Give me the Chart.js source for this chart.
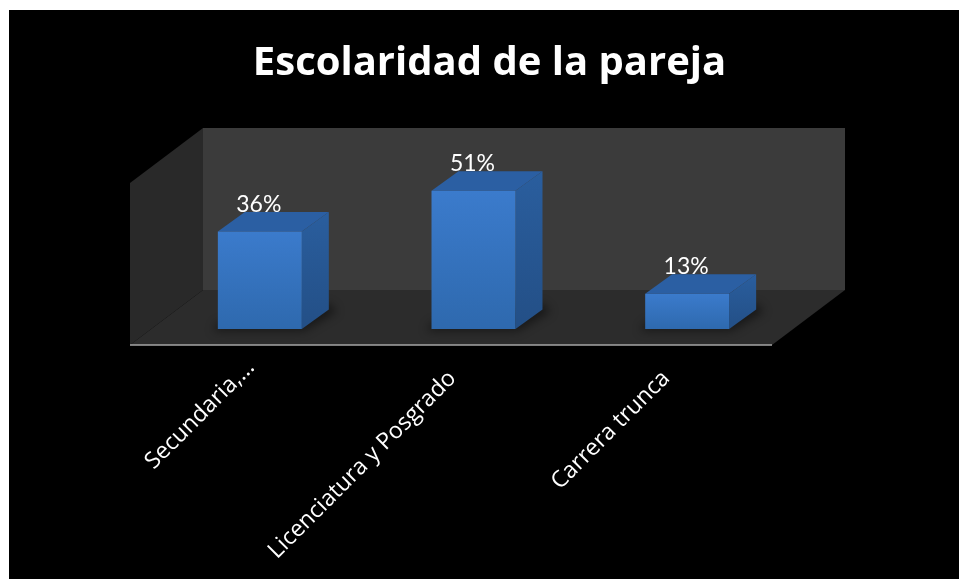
<!DOCTYPE html>
<html lang="es">
<head>
<meta charset="utf-8">
<title>Escolaridad de la pareja</title>
<script src="https://cdn.jsdelivr.net/npm/chart.js@4"></script>
<style>
  html, body { margin: 0; background: #fff; overflow: hidden; }
  #chart { position: absolute; left: 9px; top: 10px; background: #000; }
</style>
</head>
<body>
<canvas id="chart" width="950" height="569"></canvas>
<script>
const categories = ["Secundaria,...", "Licenciatura y Posgrado", "Carrera trunca"];
const percentages = [36, 51, 13];
const axisMax = 60;

// oblique offset of the box tops and of the room floor
const barDepth = { x: 27, y: -19.5 };
const roomDepth = { x: 73, y: -55 };

function poly(ctx, pts, fill) {
  ctx.beginPath();
  pts.forEach((p, i) => (i ? ctx.lineTo(p[0], p[1]) : ctx.moveTo(p[0], p[1])));
  ctx.closePath();
  ctx.fillStyle = fill;
  ctx.fill();
}

function vGradient(ctx, top, bottom, c0, c1) {
  const g = ctx.createLinearGradient(0, top, 0, bottom);
  g.addColorStop(0, c0);
  g.addColorStop(1, c1);
  return g;
}

// back wall, side wall, floor and the front axis line
const room = {
  id: "room",
  beforeDatasetsDraw(chart) {
    const { ctx, chartArea: a } = chart;
    const left = a.left - 23, right = a.right - 22, front = a.bottom + 16;
    const top = front - 162;
    const d = roomDepth;
    ctx.save();
    poly(ctx, [[left + d.x, top + d.y], [right + d.x, top + d.y], [right + d.x, front + d.y], [left + d.x, front + d.y]], "#3b3b3b");
    poly(ctx, [[left, top], [left + d.x, top + d.y], [left + d.x, front + d.y], [left, front]], "#292929");
    poly(ctx, [[left, front], [right, front], [right + d.x, front + d.y], [left + d.x, front + d.y]], "#2c2c2c");
    ctx.strokeStyle = "#a6a6a6";
    ctx.lineWidth = 1.5;
    ctx.beginPath();
    ctx.moveTo(left, front);
    ctx.lineTo(right, front);
    ctx.stroke();
    ctx.restore();
  },
};

// soft floor shadow plus the top and side faces of each box
const boxes = {
  id: "boxes",
  beforeDatasetsDraw(chart) {
    const { ctx } = chart;
    const d = barDepth;
    chart.getDatasetMeta(0).data.forEach((bar) => {
      const x0 = bar.x - bar.width / 2, x1 = bar.x + bar.width / 2;
      const t = bar.y, b = bar.base;
      ctx.save();
      ctx.filter = "blur(5px)";
      poly(ctx, [[x0 - 5, b + 2], [x1 + 2, b + 2], [x1 + d.x + 8, b + d.y + 2], [x1 + d.x, b + d.y - 6], [x0, b - 6]], "rgba(0,0,0,0.45)");
      ctx.restore();
      poly(ctx, [[x0, t], [x1, t], [x1 + d.x, t + d.y], [x0 + d.x, t + d.y]], "#2b5fa3");
      poly(ctx, [[x1, t], [x1 + d.x, t + d.y], [x1 + d.x, b + d.y], [x1, b]],
        vGradient(ctx, t + d.y, b, "#2a5e9e", "#234f86"));
    });
  },
};

// percentage printed above each box
const valueLabels = {
  id: "valueLabels",
  afterDatasetsDraw(chart) {
    const { ctx } = chart;
    ctx.save();
    ctx.fillStyle = "#fff";
    ctx.font = "23px Lato";
    ctx.textAlign = "center";
    ctx.textBaseline = "middle";
    chart.getDatasetMeta(0).data.forEach((bar, i) => {
      ctx.fillText(percentages[i] + "%", bar.x - 1, bar.y - 27);
    });
    ctx.restore();
  },
};

// the shortened first label sits a little closer to the axis than the others
const firstLabelShift = {
  id: "firstLabelShift",
  afterUpdate(chart) {
    const item = chart.scales.x.getLabelItems()[0];
    if (!item) return;
    item.options.translation = [item.options.translation[0] + 12, item.options.translation[1] - 11];
  },
};

new Chart(document.getElementById("chart"), {
  type: "bar",
  data: {
    labels: categories,
    datasets: [{
      data: percentages,
      yAxisID: "y",
      categoryPercentage: 1,
      barPercentage: 0.393,
      backgroundColor(c) {
        const { chart, raw } = c;
        if (!chart.chartArea || raw === undefined) return "#3574bd";
        return vGradient(chart.ctx, chart.scales.y.getPixelForValue(raw), chart.chartArea.bottom, "#3b7bcc", "#2e69ae");
      },
    }],
  },
  plugins: [room, boxes, valueLabels, firstLabelShift],
  options: {
    responsive: false,
    animation: false,
    layout: { padding: { left: 11 } },
    plugins: {
      legend: { display: false },
      tooltip: { enabled: false },
      title: {
        display: true,
        text: "Escolaridad de la pareja",
        color: "#fff",
        font: { family: "'Open Sans'", size: 40, weight: "bold" },
        padding: { top: 30, bottom: 78.4 },
      },
    },
    scales: {
      x: {
        grid: { display: false },
        border: { display: false },
        afterFit(s) { s.height = 250; },
        ticks: {
          color: "#fff",
          font: { family: "'Open Sans'", size: 23 },
          minRotation: 45,
          maxRotation: 45,
          autoSkip: false,
          padding: 28,
          labelOffset: -21,
        },
      },
      y: {
        min: 0,
        max: axisMax,
        grid: { display: false },
        border: { display: false },
        ticks: { display: false },
        afterFit(s) { s.width = 133; },
      },
      // empty axis that only reserves the space right of the plot
      yRight: {
        position: "right",
        grid: { display: false },
        border: { display: false },
        ticks: { display: false },
        afterFit(s) { s.width = 165; },
      },
    },
  },
});
</script>
</body>
</html>
